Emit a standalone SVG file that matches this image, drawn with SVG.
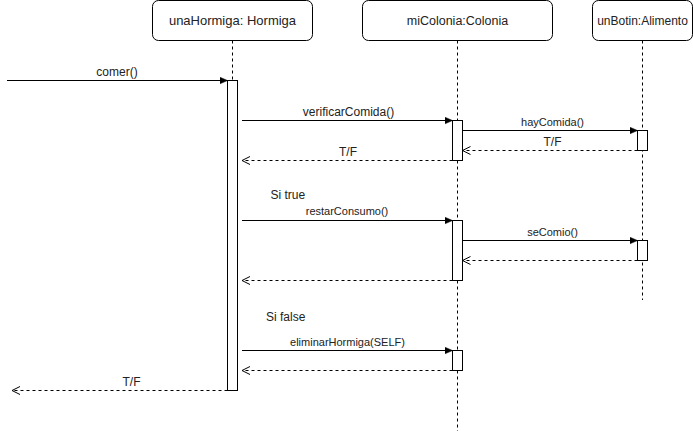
<svg xmlns="http://www.w3.org/2000/svg" width="693" height="431" viewBox="0 0 693 431">
<style>
.box{fill:#fff;stroke:#000;stroke-width:1}
.life{stroke:#000;stroke-width:1;stroke-dasharray:3,3;fill:none}
.act{fill:#fff;stroke:#000;stroke-width:1}
.call{stroke:#000;stroke-width:1;fill:none;marker-end:url(#block)}
.ret{stroke:#000;stroke-width:1;fill:none;stroke-dasharray:3,3;marker-end:url(#open)}
.t{font-family:"Liberation Sans",Arial,sans-serif;fill:#222}
.title{font-size:13px;text-anchor:middle}
.l12{font-size:12px;text-anchor:middle}
.l11{font-size:11px;text-anchor:middle}
.note{font-size:12px}
</style>
<defs>
<marker id="block" markerUnits="userSpaceOnUse" markerWidth="10" markerHeight="10" refX="8" refY="4" orient="auto">
<path d="M0,0.5 L8,4 L0,7.5 z" fill="#000" stroke="#000" stroke-width="0.5"/>
</marker>
<marker id="open" markerUnits="userSpaceOnUse" markerWidth="12" markerHeight="12" refX="9" refY="5" orient="auto">
<path d="M1,1 L9,5 L1,9" fill="none" stroke="#000" stroke-width="1"/>
</marker>
</defs>
<rect width="693" height="431" fill="#fff"/>

<g id="hormiga">
<rect class="box" x="152.5" y="0.5" width="160" height="40" rx="6" ry="6"/>
<text class="t title" x="232.5" y="25">unaHormiga: Hormiga</text>
<line class="life" x1="232.5" y1="40.5" x2="232.5" y2="80"/>
<rect class="act" x="227.5" y="80.5" width="10" height="310"/>
</g>

<g id="colonia">
<rect class="box" x="362.5" y="0.5" width="190" height="40" rx="6" ry="6"/>
<text class="t title" x="457.5" y="25" style="font-size:12.5px">miColonia:Colonia</text>
<line class="life" x1="457.5" y1="40.5" x2="457.5" y2="431"/>
<rect class="act" x="452.5" y="120.5" width="10" height="40"/>
<rect class="act" x="452.5" y="220.5" width="10" height="60"/>
<rect class="act" x="452.5" y="350.5" width="10" height="20"/>
</g>

<g id="botin">
<rect class="box" x="592.5" y="0.5" width="100" height="40" rx="6" ry="6"/>
<text class="t title" x="642.5" y="25" style="font-size:12px">unBotin:Alimento</text>
<line class="life" x1="642.5" y1="40.5" x2="642.5" y2="300"/>
<rect class="act" x="637.5" y="130.5" width="10" height="20"/>
<rect class="act" x="637.5" y="240.5" width="10" height="20"/>
</g>

<g id="connectors">
<line class="call" x1="7" y1="80.5" x2="227.5" y2="80.5"/>
<text class="t l12" x="117" y="76">comer()</text>

<line class="call" x1="242" y1="120.5" x2="452.5" y2="120.5"/>
<text class="t l12" x="348.5" y="116">verificarComida()</text>

<line class="call" x1="462.5" y1="130.5" x2="637.5" y2="130.5"/>
<text class="t l11" x="552.5" y="126">hayComida()</text>

<line class="ret" x1="637.5" y1="150.5" x2="462.5" y2="150.5"/>
<text class="t l12" x="552.5" y="145.5">T/F</text>

<line class="ret" x1="452.5" y1="160.5" x2="242" y2="160.5"/>
<text class="t l12" x="348" y="156">T/F</text>

<text class="t note" x="270.5" y="199">Si true</text>
<line class="call" x1="242" y1="220.5" x2="452.5" y2="220.5"/>
<text class="t l11" x="347" y="215">restarConsumo()</text>

<line class="call" x1="462.5" y1="240.5" x2="637.5" y2="240.5"/>
<text class="t l11" x="552.5" y="235.5">seComio()</text>

<line class="ret" x1="637.5" y1="260.5" x2="462.5" y2="260.5"/>
<line class="ret" x1="452.5" y1="280.5" x2="242" y2="280.5"/>

<text class="t note" x="266" y="321">Si false</text>
<line class="call" x1="242" y1="350.5" x2="452.5" y2="350.5"/>
<text class="t l11" x="347.5" y="345.5">eliminarHormiga(SELF)</text>

<line class="ret" x1="452.5" y1="370.5" x2="242" y2="370.5"/>

<line class="ret" x1="227.5" y1="390.5" x2="12" y2="390.5"/>
<text class="t l12" x="131.5" y="386">T/F</text>
</g>
</svg>
